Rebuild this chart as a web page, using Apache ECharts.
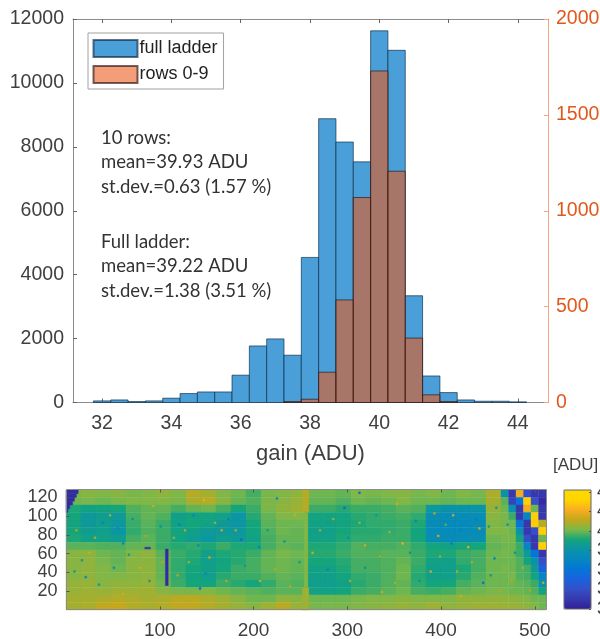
<!DOCTYPE html>
<html>
<head>
<meta charset="utf-8">
<style>
  html, body { margin: 0; padding: 0; background: #fff; }
  #chart { width: 600px; height: 639px; overflow: hidden; }
</style>
</head>
<body>
<div id="chart"></div>
<script src="https://cdn.jsdelivr.net/npm/echarts@6/dist/echarts.min.js"></script>
<script>
// histogram, bins are 0.5 ADU wide
const binWidth = 0.5
const binCenters = [32, 32.5, 33, 33.5, 34, 34.5, 35, 35.5, 36, 36.5, 37, 37.5, 38, 38.5, 39, 39.5, 40, 40.5, 41, 41.5, 42, 42.5, 43, 43.5, 44]
const fullLadder = [50, 80, 30, 50, 135, 280, 330, 330, 855, 1770, 1990, 1480, 4540, 8880, 8150, 7530, 11630, 11020, 3340, 830, 310, 80, 40, 40, 20]
const rows09 = [0, 0, 0, 0, 0, 0, 0, 0, 0, 0, 0, 5, 17, 158, 535, 1069, 1729, 1206, 336, 40, 5, 0, 0, 0, 0]
const gainTicks = [32, 34, 36, 38, 40, 42, 44]
const mapTicksX = [100, 200, 300, 400, 500]
const mapTicksY = [20, 40, 60, 80, 100, 120]
const colorbarTicks = [32, 34, 36, 38, 40, 42, 44]

// gain map, estimated block averages (ADU), first row is the top of the ladder
const mapColStarts = [0, 16, 32, 48, 64, 80, 96, 112, 128, 144, 160, 176, 192, 208, 224, 240, 256, 272, 288, 304, 320, 336, 352, 368, 384, 400, 416, 432, 448]
const mapRowStarts = [120, 112, 104, 96, 88, 80, 72, 64, 56, 48, 40, 32, 24, 16, 8, 0]
const mapValues = [
  [40.1, 40.3, 40.2, 40.3, 40.1, 40.2, 40.4, 40.2, 40.9, 40.7, 40.2, 40.0, 39.6, 40.1, 40.2, 40.4, 40.0, 40.0, 39.9, 40.2, 40.1, 40.2, 40.3, 40.1, 40.2, 40.0, 40.2, 40.1, 40.8],
  [40.0, 40.1, 40.0, 40.1, 40.2, 40.2, 40.2, 40.1, 40.8, 40.9, 40.3, 39.9, 39.7, 40.1, 40.3, 40.5, 39.9, 39.9, 39.7, 40.0, 39.9, 40.0, 40.2, 40.0, 40.0, 39.9, 40.0, 40.0, 40.7],
  [39.2, 38.9, 39.0, 39.1, 39.7, 39.9, 39.9, 39.6, 39.9, 40.0, 39.6, 39.1, 39.5, 40.1, 40.4, 40.6, 39.5, 39.5, 39.3, 39.5, 39.5, 39.6, 39.8, 39.7, 38.3, 38.0, 38.0, 38.1, 40.5],
  [39.1, 38.4, 38.6, 38.5, 39.6, 39.9, 39.7, 38.8, 39.0, 39.0, 38.9, 38.2, 39.3, 39.9, 40.2, 40.2, 39.0, 39.0, 39.0, 39.3, 39.4, 39.5, 39.6, 39.4, 37.7, 37.5, 37.5, 37.6, 40.3],
  [39.0, 38.4, 38.7, 38.3, 39.5, 39.8, 39.5, 38.9, 39.1, 38.9, 38.5, 38.2, 39.1, 39.8, 40.0, 40.0, 38.9, 38.9, 39.0, 39.2, 39.4, 39.4, 39.5, 39.2, 37.5, 37.3, 37.3, 37.5, 40.2],
  [39.1, 38.6, 38.7, 38.2, 39.4, 39.7, 39.5, 39.0, 38.8, 38.5, 38.4, 38.3, 39.0, 39.7, 40.0, 39.9, 38.8, 38.8, 39.1, 39.3, 39.3, 39.4, 39.5, 39.0, 37.4, 37.3, 37.4, 37.5, 40.2],
  [39.2, 38.9, 38.9, 38.6, 39.6, 39.8, 39.5, 39.0, 38.6, 38.3, 38.7, 38.5, 38.9, 39.6, 39.9, 39.9, 38.9, 38.9, 39.2, 39.4, 39.4, 39.5, 39.5, 39.1, 37.6, 37.5, 37.6, 37.7, 40.0],
  [39.8, 39.8, 39.7, 39.7, 39.9, 39.9, 39.5, 39.3, 39.4, 39.2, 39.5, 39.2, 39.2, 39.6, 39.9, 39.8, 39.2, 39.2, 39.4, 39.7, 39.6, 39.6, 39.7, 39.4, 39.0, 38.9, 39.1, 39.1, 39.9],
  [40.3, 40.3, 40.0, 39.9, 40.2, 40.4, 39.8, 39.5, 39.3, 38.8, 39.2, 39.3, 39.5, 39.9, 40.1, 40.0, 39.3, 39.3, 39.5, 39.7, 39.7, 39.8, 39.8, 39.5, 39.2, 39.2, 39.5, 39.6, 40.0],
  [40.3, 40.4, 40.1, 39.9, 40.3, 40.3, 39.9, 39.4, 39.2, 38.7, 39.0, 39.3, 39.6, 39.9, 40.0, 39.9, 39.1, 39.1, 39.3, 39.6, 39.6, 39.7, 39.9, 39.5, 38.9, 38.8, 39.4, 39.6, 40.0],
  [40.3, 40.4, 40.2, 40.0, 40.3, 40.4, 39.9, 39.4, 39.1, 38.8, 39.1, 39.5, 39.6, 39.9, 40.0, 39.9, 38.9, 38.9, 39.2, 39.6, 39.6, 39.7, 40.0, 39.4, 38.8, 38.7, 39.2, 39.6, 40.0],
  [40.3, 40.4, 40.2, 40.2, 40.3, 40.4, 39.9, 39.4, 39.0, 38.7, 39.3, 39.5, 39.5, 39.7, 39.9, 39.8, 38.8, 38.8, 39.0, 39.4, 39.5, 39.7, 40.0, 39.3, 38.8, 38.8, 39.3, 39.7, 40.0],
  [40.5, 40.5, 40.3, 40.4, 40.4, 40.5, 40.0, 39.5, 39.1, 39.0, 39.5, 39.3, 39.1, 39.4, 39.8, 39.7, 38.7, 38.7, 38.9, 39.3, 39.5, 39.7, 39.9, 39.4, 39.1, 39.1, 39.6, 39.8, 40.0],
  [40.5, 40.6, 40.5, 40.6, 40.6, 40.6, 40.3, 40.1, 40.1, 40.2, 40.0, 39.9, 39.8, 39.7, 39.8, 39.8, 38.9, 38.9, 39.0, 39.5, 39.6, 39.8, 40.0, 39.6, 39.5, 39.6, 39.9, 40.0, 40.1],
  [40.7, 40.7, 40.8, 40.9, 40.8, 40.7, 40.8, 41.0, 41.0, 40.8, 40.6, 40.3, 40.0, 40.0, 40.4, 40.3, 40.0, 40.0, 40.0, 40.1, 40.2, 40.2, 40.3, 40.2, 40.2, 40.2, 40.4, 40.4, 40.4],
  [40.7, 40.8, 41.1, 41.2, 40.9, 40.8, 40.9, 41.1, 41.1, 40.9, 40.7, 40.5, 40.3, 40.6, 41.0, 40.5, 40.1, 40.1, 40.1, 40.2, 40.3, 40.4, 40.5, 40.4, 40.6, 40.4, 40.5, 40.6, 40.6]
]

// right end of the ladder, 8 x 8 blocks
const edgeColStarts = [464, 472, 480, 488, 496, 504]
const edgeValues = [
  [38, 33, 42, 34, 33, 33],
  [39.8, 33.5, 36, 43, 34, 32.5],
  [40, 38, 33, 42, 40, 33],
  [40.1, 39.5, 33, 37, 43, 33],
  [40.1, 40, 36, 33, 43, 41],
  [40.2, 40, 38, 33, 34, 43],
  [40.1, 40.1, 39, 34, 33, 40],
  [40, 40, 39.5, 37, 33, 43],
  [40.1, 40, 39.5, 38.5, 36, 33],
  [40, 40, 39.7, 39, 38, 34],
  [40.1, 40, 39.7, 39.6, 38.5, 35],
  [40, 40.1, 39.7, 39.6, 39, 37],
  [40, 40, 39.9, 39.8, 39.5, 38],
  [40.1, 40, 40, 39.9, 39.7, 39],
  [40.4, 40.4, 40.3, 40.2, 40, 40],
  [40.6, 40.5, 40.5, 40.4, 40.2, 40]
]

// dead corner, dead column and the bright stripe at the chip boundary: [x0, x1, y0, y1, adu]
const deadCells = [
  [252, 259, 104, 128, 40.9],
  [252, 259, 0, 24, 40.6],
  [254, 258, 24, 104, 40.2],
  [0, 13, 124, 128, 32.5],
  [0, 11, 120, 124, 32.5],
  [0, 9, 116, 120, 32.5],
  [0, 7, 112, 116, 32.5],
  [0, 4, 108, 112, 32.5],
  [0, 2, 104, 108, 32.5],
  [106, 109, 26, 65, 32.5],
  [84, 90, 65, 67, 33]
]

// outlying pixels seen in the map: [x, y, adu]
const spotCells = [
  [24, 60, 41.5], [38, 92, 37], [60, 70, 37], [78, 44, 41.5], [92, 110, 41.5], [120, 90, 37],
  [135, 100, 37], [142, 22, 35], [152, 55, 41.5], [165, 84, 41.5], [172, 96, 37], [186, 74, 35],
  [205, 66, 37], [224, 118, 37], [243, 100, 41.5], [262, 60, 41.5], [278, 42, 37], [296, 108, 35],
  [312, 124, 35], [318, 68, 41.5], [336, 18, 41.5], [352, 112, 41.5], [358, 70, 42], [372, 94, 37],
  [396, 78, 41.5], [412, 100, 41.5], [428, 66, 42], [440, 86, 41.5], [444, 28, 35], [456, 54, 37],
  [420, 14, 41.5], [388, 40, 41.5], [206, 30, 41.5], [146, 116, 42], [60, 16, 41.5], [20, 34, 37],
  [10, 84, 41], [30, 76, 41], [46, 100, 40.6], [54, 86, 37.5], [70, 96, 38], [84, 78, 41],
  [100, 88, 38], [114, 76, 40.8], [126, 84, 40.8], [140, 68, 37.5], [158, 92, 40.6], [180, 84, 40.8],
  [8, 40, 38.5], [16, 52, 38.5], [34, 26, 38.5], [50, 44, 38], [66, 58, 38.5], [88, 30, 38.5],
  [102, 50, 41], [118, 36, 41], [130, 50, 40.8], [148, 38, 37.5], [170, 30, 41], [190, 46, 38.5],
  [214, 84, 38.5], [232, 72, 38.5], [248, 50, 38.5], [222, 42, 41], [238, 24, 41], [214, 112, 41],
  [270, 84, 40.6], [284, 96, 40.6], [300, 76, 38], [312, 92, 40.8], [330, 100, 38.3], [344, 82, 40.8],
  [366, 60, 38], [376, 30, 38], [302, 30, 40.8], [318, 44, 38], [334, 56, 40.6], [350, 28, 40.8],
  [392, 102, 40.8], [404, 90, 39.8], [420, 84, 36.5], [436, 96, 36.5], [410, 70, 36.5], [398, 56, 40.6],
  [416, 40, 40.8], [432, 50, 41], [450, 88, 38.5], [458, 108, 38.5], [452, 36, 38.5], [462, 20, 41],
  [474, 30, 41], [486, 44, 41], [478, 60, 38], [470, 90, 38], [494, 20, 41], [508, 28, 41.5]
]

// [x0, x1, y0, y1, adu] for every block of the map
const mapCells = []
mapRowStarts.forEach((y, r) => {
  mapColStarts.forEach((x, c) => mapCells.push([x, x + 16, y, y + 8, mapValues[r][c]]))
  edgeColStarts.forEach((x, c) => mapCells.push([x, x + 8, y, y + 8, edgeValues[r][c]]))
})
deadCells.forEach(d => mapCells.push(d))
spotCells.forEach(s => mapCells.push([s[0], s[0] + 2, s[1], s[1] + 2, s[2]]))

function renderBin(params, api) {
  const c = api.value(0)
  const v = api.value(1)
  if (!v) return null
  const a = api.coord([c - binWidth / 2, 0])
  const b = api.coord([c + binWidth / 2, v])
  return {
    type: 'rect',
    shape: { x: a[0], y: b[1], width: b[0] - a[0], height: a[1] - b[1] },
    style: api.style()
  }
}

function renderCell(params, api) {
  const a = api.coord([api.value(0), api.value(2)])
  const b = api.coord([api.value(1), api.value(3)])
  const color = api.visual('color')
  return {
    type: 'rect',
    shape: { x: a[0], y: b[1], width: b[0] - a[0], height: a[1] - b[1] },
    style: { fill: color, stroke: color, lineWidth: 0.4 }
  }
}

const labelFont = '"Liberation Sans", Arial, sans-serif'
const noteFont = 'Lato, "Open Sans", sans-serif'
const inkColor = '#404040'
const frameColor = '#8c8c8c'
const orangeInk = '#e2581c'
const plainNumber = v => String(v)

function noteText(left, top, lines) {
  return {
    type: 'text',
    left: left,
    top: top,
    style: { text: lines.join('\n'), font: '18.5px ' + noteFont, fill: '#333', lineHeight: 24.3 },
    z: 20
  }
}

const chart = echarts.init(document.getElementById('chart'), null, { renderer: 'canvas' })

chart.setOption({
  backgroundColor: '#fff',
  animation: false,
  textStyle: { fontFamily: labelFont },
  grid: [
    { left: 73, top: 19, width: 475, height: 383.5, outerBoundsMode: 'none' },
    { left: 66.5, top: 489.5, width: 480, height: 120, outerBoundsMode: 'none', show: true, borderColor: frameColor, borderWidth: 1, z: 6, backgroundColor: 'transparent' },
    { left: 564, top: 490, width: 27, height: 119, outerBoundsMode: 'none', show: true, borderColor: '#666', borderWidth: 1, z: 6, backgroundColor: 'transparent' }
  ],
  legend: {
    left: 88,
    top: 33,
    orient: 'vertical',
    padding: [6, 6, 5, 4.5],
    itemGap: 7,
    itemWidth: 44,
    itemHeight: 17,
    borderColor: '#a0a0a0',
    borderWidth: 1,
    backgroundColor: '#fff',
    icon: 'rect',
    selectedMode: false,
    data: ['full ladder', 'rows 0-9'],
    textStyle: { fontFamily: labelFont, fontSize: 18, color: '#222', padding: [0, 0, 0, -3] }
  },
  visualMap: {
    type: 'continuous',
    show: true,
    seriesIndex: 2,
    dimension: 4,
    min: 32,
    max: 44.2,
    left: 564,
    top: 490,
    itemWidth: 27,
    itemHeight: 119,
    padding: 0,
    text: null,
    calculable: false,
    hoverLink: false,
    inRange: {
      color: ['#2e1f96', '#3838ae', '#3450c8', '#1a62dc', '#0476d8', '#0587c0', '#0b93a8', '#14a57a', '#7cb84a', '#c4a81c', '#f9ae20', '#ffd500', '#ffd900']
    }
  },
  xAxis: [
    {
      gridIndex: 0,
      type: 'value',
      position: 'bottom',
      min: 31.16,
      max: 44.87,
      name: 'gain (ADU)',
      nameLocation: 'middle',
      nameGap: 40,
      nameTextStyle: { fontSize: 22, color: inkColor, fontFamily: labelFont },
      axisLine: { show: true, onZero: false, lineStyle: { color: frameColor } },
      axisTick: { show: true, inside: true, length: 4, customValues: gainTicks, lineStyle: { color: '#666' } },
      axisLabel: { fontSize: 19.5, fontFamily: labelFont, color: inkColor, margin: 11, customValues: gainTicks },
      splitLine: { show: false }
    },
    {
      gridIndex: 0,
      type: 'value',
      position: 'top',
      min: 31.16,
      max: 44.87,
      axisLine: { show: true, onZero: false, lineStyle: { color: frameColor } },
      axisTick: { show: true, inside: true, length: 4, customValues: gainTicks, lineStyle: { color: '#666' } },
      axisLabel: { show: false },
      splitLine: { show: false }
    },
    {
      gridIndex: 1,
      type: 'value',
      position: 'bottom',
      min: 0.5,
      max: 512.5,
      z: 6,
      axisLine: { show: false, onZero: false },
      axisTick: { show: true, inside: true, length: 3, customValues: mapTicksX, lineStyle: { color: '#555' } },
      axisLabel: { fontSize: 19, fontFamily: labelFont, color: inkColor, margin: 12, customValues: mapTicksX },
      splitLine: { show: false }
    },
    {
      gridIndex: 1,
      type: 'value',
      position: 'top',
      min: 0.5,
      max: 512.5,
      z: 6,
      axisLine: { show: false, onZero: false },
      axisTick: { show: true, inside: true, length: 3, customValues: mapTicksX, lineStyle: { color: '#555' } },
      axisLabel: { show: false },
      splitLine: { show: false }
    },
    {
      gridIndex: 2,
      type: 'value',
      show: false,
      min: 0,
      max: 1
    }
  ],
  yAxis: [
    {
      gridIndex: 0,
      type: 'value',
      position: 'left',
      min: 0,
      max: 12000,
      interval: 2000,
      axisLine: { show: true, onZero: false, lineStyle: { color: frameColor } },
      axisTick: { show: true, inside: true, length: 4, lineStyle: { color: '#666' } },
      axisLabel: { fontSize: 19.5, fontFamily: labelFont, color: inkColor, margin: 9, formatter: plainNumber },
      splitLine: { show: false }
    },
    {
      gridIndex: 0,
      type: 'value',
      position: 'right',
      min: 0,
      max: 2000,
      interval: 500,
      axisLine: { show: true, onZero: false, lineStyle: { color: '#f6a685' } },
      axisTick: { show: true, inside: true, length: 4, lineStyle: { color: '#f6a685' } },
      axisLabel: { fontSize: 19.5, fontFamily: labelFont, color: orangeInk, margin: 8, formatter: plainNumber },
      splitLine: { show: false }
    },
    {
      gridIndex: 1,
      type: 'value',
      position: 'left',
      min: 0.5,
      max: 128.5,
      z: 6,
      axisLine: { show: false, onZero: false },
      axisTick: { show: true, inside: true, length: 3, customValues: mapTicksY, lineStyle: { color: '#555' } },
      axisLabel: { fontSize: 18, fontFamily: labelFont, color: inkColor, margin: 9, customValues: mapTicksY },
      splitLine: { show: false }
    },
    {
      gridIndex: 2,
      type: 'value',
      position: 'right',
      min: 32,
      max: 44.2,
      z: 6,
      axisLine: { show: false, onZero: false },
      axisTick: { show: true, inside: true, length: 2, customValues: colorbarTicks, lineStyle: { color: '#555' } },
      axisLabel: { fontSize: 18, fontFamily: labelFont, color: inkColor, margin: 6, customValues: colorbarTicks },
      splitLine: { show: false }
    }
  ],
  graphic: [
    noteText(101, 126, ['10 rows:', 'mean=39.93 ADU', 'st.dev.=0.63 (1.57 %)']),
    noteText(101, 230, ['Full ladder:', 'mean=39.22 ADU', 'st.dev.=1.38 (3.51 %)']),
    {
      type: 'text',
      left: 553,
      top: 457,
      style: { text: '[ADU]', font: '17px ' + labelFont, fill: inkColor },
      z: 20
    }
  ],
  series: [
    {
      name: 'full ladder',
      type: 'custom',
      xAxisIndex: 0,
      yAxisIndex: 0,
      z: 3,
      renderItem: renderBin,
      encode: { x: 0, y: 1 },
      itemStyle: { color: '#4a9fd8', borderColor: 'rgba(10,40,65,0.65)', borderWidth: 1 },
      data: binCenters.map((c, i) => [c, fullLadder[i]])
    },
    {
      name: 'rows 0-9',
      type: 'custom',
      xAxisIndex: 0,
      yAxisIndex: 1,
      z: 4,
      renderItem: renderBin,
      encode: { x: 0, y: 1 },
      itemStyle: { color: 'rgba(236,88,25,0.586)', borderColor: 'rgba(40,20,15,0.65)', borderWidth: 1 },
      data: binCenters.map((c, i) => [c, rows09[i]])
    },
    {
      name: 'gain map',
      type: 'custom',
      xAxisIndex: 2,
      yAxisIndex: 2,
      z: 2,
      renderItem: renderCell,
      encode: { x: [0, 1], y: [2, 3] },
      data: mapCells
    }
  ]
})
</script>
</body>
</html>
